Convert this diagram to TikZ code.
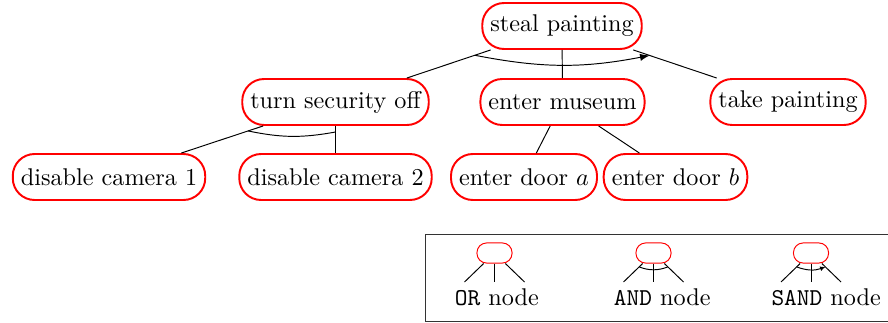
\documentclass[tikz,border=0pt]{standalone}
\usetikzlibrary{calc,arrows,arrows.meta}
\begin{document}
\begin{tikzpicture}[x=0.4132pt,y=-0.4132pt,
  tnode/.style={draw=red,line width=0.8pt,rounded corners=9pt,minimum height=19pt,inner xsep=3.33pt},
  lnode/.style={draw=red,line width=0.4pt,rounded corners=4pt,minimum width=14.5pt,minimum height=8.3pt,inner sep=0pt},
  edge/.style={line width=0.4pt},
  joint/.style={line width=0.4pt,bend right=11}]
\useasboundingbox (0,0) rectangle (888,322);

% attack tree
\node[tnode] (steal) at (562,26) {steal painting};
\node[tnode] (turn) at (335.5,102) {turn security off};
\node[tnode] (enter) at (562.5,102) {enter museum};
\node[tnode] (take) at (788,102) {take painting};
\node[tnode] (cam1) at (109,177) {disable camera 1};
\node[tnode] (cam2) at (335.5,177) {disable camera 2};
\node[tnode] (doora) at (524,177) {enter door $a$};
\node[tnode] (doorb) at (675.5,177) {enter door $b$};

\draw[edge] (steal) -- (turn);
\draw[edge] (steal) -- (enter);
\draw[edge] (steal) -- (take);
\draw[edge] (turn) -- (cam1);
\draw[edge] (turn) -- (cam2);
\draw[edge] (enter) -- (doora);
\draw[edge] (enter) -- (doorb);

% sequential conjunction at the root, conjunction below "turn security off"
\draw[joint,-latex] ($(steal)!0.385!(turn)$) to ($(steal)!0.388!(take)$);
\draw[joint] ($(turn)!0.386!(cam1)$) to ($(turn)!0.4!(cam2)$);

% legend
\draw[line width=0.4pt,black!80] (425,234) rectangle (900,321.3);
\foreach \cx/\nm in {494.5/or,653.5/and,811/sand}{
  \node[lnode] (\nm box) at (\cx,253) {};
  \coordinate (\nm l) at (\cx-30,282);
  \coordinate (\nm m) at (\cx,282);
  \coordinate (\nm r) at (\cx+30,282);
  \draw[edge] (\nm box) -- (\nm l);
  \draw[edge] (\nm box) -- (\nm m);
  \draw[edge] (\nm box) -- (\nm r);
}
\draw[edge,bend right=20] ($(andbox)!0.48!(andl)$) to ($(andbox)!0.48!(andr)$);
\draw[edge,bend right=20,-{Latex[length=2.2pt,width=2pt]}] ($(sandbox)!0.48!(sandl)$) to ($(sandbox)!0.48!(sandr)$);
\node[anchor=west,inner sep=0pt] (orlab) at (454.5,297.5) {\texttt{OR} node};
\node[anchor=west,inner sep=0pt] (andlab) at (613.5,297.5) {\texttt{AND} node};
\node[anchor=west,inner sep=0pt] (sandlab) at (771,297.5) {\texttt{SAND} node};
\end{tikzpicture}
\end{document}
